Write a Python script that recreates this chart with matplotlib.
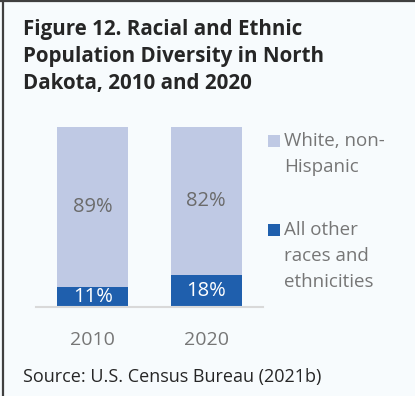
import matplotlib

matplotlib.use("Agg")
import matplotlib.pyplot as plt
from matplotlib.lines import Line2D
from matplotlib.patches import Rectangle

# Share of North Dakota population (%)
years = ["2010", "2020"]
white_non_hispanic = [89, 82]
all_other = [11, 18]
series_labels = [["White, non-", "Hispanic"], ["All other", "races and", "ethnicities"]]

LIGHT = "#BFC9E4"
DARK = "#1F5FAD"
BG = "#F7FBFD"
GREY = "#767676"

plt.rcParams["font.family"] = ["Open Sans", "DejaVu Sans"]

W, H = 415, 396
fig = plt.figure(figsize=(W / 100, H / 100), dpi=100, facecolor=BG)


def px(x, y):
    # pixel position from top-left -> figure fraction
    return x / W, 1 - y / H


ax = fig.add_axes([36 / W, 89 / H, 227 / W, 180 / H], facecolor=BG)
x = range(len(years))
bottom_bars = ax.bar(x, all_other, width=0.625, color=DARK)
top_bars = ax.bar(x, white_non_hispanic, width=0.625, bottom=all_other, color=LIGHT)
ax.bar_label(bottom_bars, labels=[f"{v}%" for v in all_other], label_type="center",
             color="white", fontsize=14.5)
ax.bar_label(top_bars, labels=[f"{v}%" for v in white_non_hispanic], label_type="center",
             color="#6B6B6B", fontsize=14.5)

ax.set_xlim(-0.5, 1.5)
ax.set_ylim(0, 100)
ax.set_xticks(list(x))
ax.set_xticklabels(years, fontsize=14, color=GREY)
ax.tick_params(axis="x", length=0, pad=17)
ax.set_yticks([])
for side in ("left", "right", "top"):
    ax.spines[side].set_visible(False)
ax.spines["bottom"].set_color("#D9D9D9")
ax.spines["bottom"].set_linewidth(1.5)

# title, one line at a time so the baselines land evenly
title_lines = ["Figure 12. Racial and Ethnic", "Population Diversity in North",
               "Dakota, 2010 and 2020"]
for i, line in enumerate(title_lines):
    fig.text(*px(23, 35 + 26.8 * i), line, ha="left", va="baseline", fontsize=14.8,
             fontweight="bold", color="#262626")

# legend drawn by hand so the swatch sits on the first line
for (ly, lines, col) in [(141.5, series_labels[0], LIGHT), (230, series_labels[1], DARK)]:
    sx, sy = px(268, ly + 6)
    fig.add_artist(Rectangle((sx, sy), 11.5 / W, 12 / H, transform=fig.transFigure,
                             color=col, lw=0))
    for i, line in enumerate(lines):
        fig.text(*px(284, ly + 26 * i), line, ha="left", va="center", fontsize=13.5,
                 color=GREY)

fig.text(*px(23, 377), "Source: U.S. Census Bureau (2021b)", ha="left", va="center",
         fontsize=13, color="#262626")

# frame on left and top edges
fig.add_artist(Line2D([2.5 / W, 2.5 / W], [0, 1], transform=fig.transFigure,
                      color="#404040", lw=1.6))
fig.add_artist(Line2D([0, 1], [1 - 0.8 / H, 1 - 0.8 / H], transform=fig.transFigure,
                      color="#404040", lw=1.6))

fig.savefig("out.png", dpi=100, facecolor=BG)
